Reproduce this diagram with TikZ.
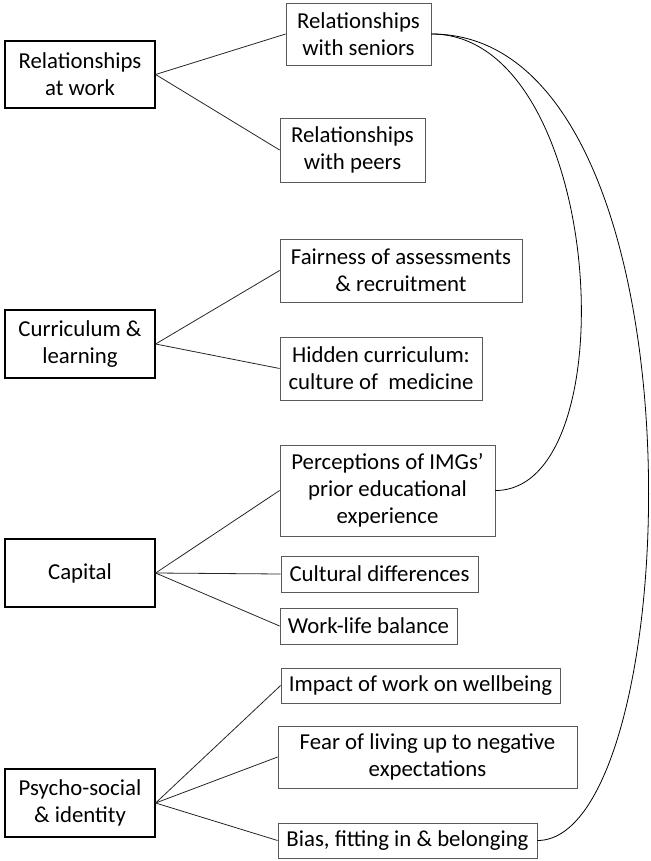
\documentclass[tikz,border=0pt]{standalone}
\usepackage{fontspec}
\setmainfont{Carlito}
\begin{document}
\begin{tikzpicture}[x=1pt,y=-1pt,
  mainbox/.style={draw=black,line width=1.2pt,align=center,inner sep=0pt,
    font=\fontsize{22.8}{27}\selectfont},
  subbox/.style={draw=black!65,line width=0.8pt,align=center,inner sep=0pt,
    font=\fontsize{22.8}{27}\selectfont},
  link/.style={draw=black!85,line width=0.8pt},
  arc/.style={draw=black,line width=0.8pt}]
\useasboundingbox (0,0) rectangle (650,861);
% main themes
\node[mainbox,minimum width=150pt,minimum height=67pt] (rw) at (80,74.5) {Relationships\\at work};
\node[mainbox,minimum width=150pt,minimum height=68pt] (cl) at (80,344) {Curriculum \&\\learning};
\node[mainbox,minimum width=150pt,minimum height=68pt] (cap) at (80,573) {Capital};
\node[mainbox,minimum width=150pt,minimum height=68pt] (psi) at (80,803) {Psycho-social\\\& identity};
% sub themes
\node[subbox,minimum width=145pt,minimum height=62pt] (sen) at (358.5,34) {Relationships\\with seniors};
\node[subbox,minimum width=145pt,minimum height=64pt] (peer) at (352.5,150) {Relationships\\with peers};
\node[subbox,minimum width=242pt,minimum height=63pt] (fair) at (401,270.5) {Fairness of assessments\\\& recruitment};
\node[subbox,minimum width=202pt,minimum height=63pt] (hid) at (381,368.5) {Hidden curriculum:\\culture of~ medicine};
\node[subbox,minimum width=215pt,minimum height=91pt] (perc) at (387.5,490.5) {Perceptions of IMGs’\\prior educational\\experience};
\node[subbox,minimum width=197pt,minimum height=36pt] (cult) at (379.5,574) {Cultural differences};
\node[subbox,minimum width=177pt,minimum height=36pt] (wlb) at (368.5,626) {Work-life balance};
\node[subbox,minimum width=279pt,minimum height=35pt] (imp) at (420.5,685.5) {Impact of work on wellbeing};
\node[subbox,minimum width=299pt,minimum height=62pt] (fear) at (427.5,757) {Fear of living up to negative\\expectations};
\node[subbox,minimum width=259pt,minimum height=35pt] (bias) at (407.5,840.5) {Bias, fitting in \& belonging};
% links
\draw[link] (rw.east) -- (sen.west);
\draw[link] (rw.east) -- (peer.west);
\draw[link] (cl.east) -- (fair.west);
\draw[link] (cl.east) -- (hid.west);
\draw[link] (cap.east) -- (perc.west);
\draw[link] (cap.east) -- (cult.west);
\draw[link] (cap.east) -- (wlb.west);
\draw[link] (psi.east) -- (imp.west);
\draw[link] (psi.east) -- (fear.west);
\draw[link] (psi.east) -- (bias.west);
% curved links
\draw[arc] (sen.east) .. controls (605,34) and (630,490.5) .. (perc.east);
\draw[arc] (sen.east) .. controls (715,34) and (688,840.5) .. (bias.east);
\end{tikzpicture}
\end{document}
